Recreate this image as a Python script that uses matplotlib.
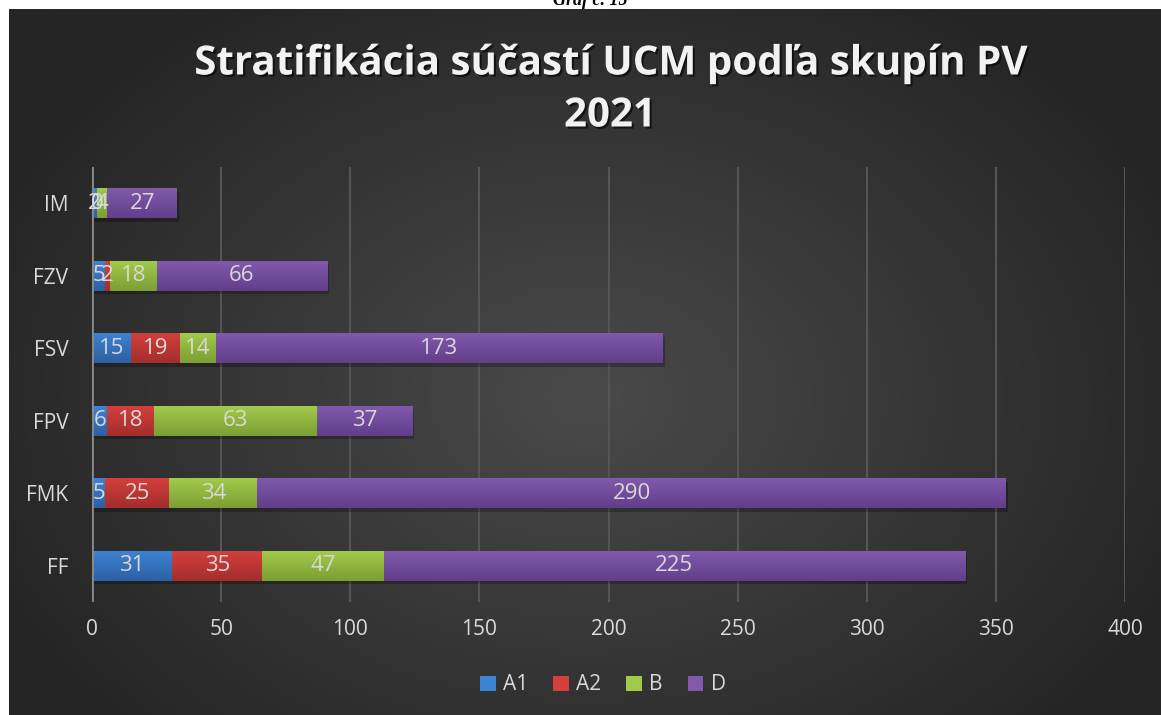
import numpy as np
import matplotlib
matplotlib.use('Agg')
import matplotlib.pyplot as plt
import matplotlib.patheffects as pe
from matplotlib.colors import to_rgb
from matplotlib.patches import Patch

# data
categories = ['FF', 'FMK', 'FPV', 'FSV', 'FZV', 'IM']
series_names = ['A1', 'A2', 'B', 'D']
a1 = [31, 5, 6, 15, 5, 2]
a2 = [35, 25, 18, 19, 2, 0]
b = [47, 34, 63, 14, 18, 4]
d = [225, 290, 37, 173, 66, 27]
x_ticks = [0, 50, 100, 150, 200, 250, 300, 350, 400]

title_lines = ['Stratifikácia súčastí UCM podľa skupín PV', '2021']
caption = 'Graf č. 15'

# (top, bottom) gradient colours per series
colors = {
    'A1': ('#3d83d3', '#2d60a3'),
    'A2': ('#d33f3c', '#a32e2d'),
    'B': ('#a2ca4a', '#7c9e34'),
    'D': ('#8159ad', '#623e8a'),
}
TXT = '#d9d9d9'
FONT = 'Open Sans'

W, H = 1161, 715
fig = plt.figure(figsize=(W / 100, H / 100), dpi=100)
fig.patch.set_facecolor('white')

# dark radial background panel
bg = fig.add_axes([9 / W, 0, 1 - 9 / W, 1 - 9 / H])
bg.set_axis_off()
yy, xx = np.mgrid[0:1:300j, 0:1:500j]
r = np.sqrt(((xx - 0.5) / 0.75) ** 2 + ((yy - 0.55) / 0.9) ** 2)
r = np.clip(r / 0.75, 0, 1)
c_in, c_out = 0x4a / 255, 0x25 / 255
img = c_in + (c_out - c_in) * r
bg.imshow(np.dstack([img, img, img]), extent=(0, 1, 0, 1), aspect='auto', origin='upper')
bg.set_xlim(0, 1)
bg.set_ylim(0, 1)

# caption cut off at the top (as in the source page)
fig.text(590 / W, 1 - 5 / H, caption, ha='center', va='baseline', fontsize=13,
         family='Liberation Serif', fontweight='bold', fontstyle='italic', color='black')

ax = fig.add_axes([92 / W, 113 / H, 1033 / W, 435 / H])
ax.set_facecolor('none')

y = np.arange(len(categories))
bar_h = 0.41
left = np.zeros(len(categories))
series = [a1, a2, b, d]
for name, vals in zip(series_names, series):
    vals = np.array(vals, dtype=float)
    top_c, bot_c = colors[name]
    bars = ax.barh(y, vals, left=left, height=bar_h, color=top_c, zorder=3,
                   path_effects=[pe.withSimplePatchShadow(offset=(1.5, -2.5), alpha=0.25, shadow_rgbFace='black')])
    grad = np.linspace(0, 1, 64)[:, None, None]
    cols = np.array(to_rgb(top_c))[None, None, :] * (1 - grad) + np.array(to_rgb(bot_c))[None, None, :] * grad
    for rect, v in zip(bars, vals):
        x0, y0 = rect.get_x(), rect.get_y()
        if v > 0:
            ax.imshow(cols, extent=(x0, x0 + v, y0, y0 + bar_h), aspect='auto',
                      origin='upper', zorder=4, interpolation='bilinear')
        ax.text(x0 + v / 2, y0 + bar_h / 2, f'{int(v)}', ha='center', va='center',
                color=TXT, fontsize=16, family=FONT, zorder=6)
    left += vals

ax.set_xlim(0, 400)
ax.set_ylim(-0.5, len(categories) - 0.5)
ax.set_xticks(x_ticks)
ax.set_yticks(y)
ax.set_yticklabels(categories)
ax.grid(axis='x', color='#555555', linewidth=1.5, zorder=0)
ax.axvline(0, color='#8a8a8a', linewidth=2, zorder=5)
for s in ax.spines.values():
    s.set_visible(False)
ax.tick_params(length=0, colors=TXT, labelsize=15)
for lbl in ax.get_xticklabels() + ax.get_yticklabels():
    lbl.set_family(FONT)
ax.tick_params(axis='x', pad=12)
ax.tick_params(axis='y', pad=17)

# title, two lines
shadow = [pe.withSimplePatchShadow(offset=(1.5, -1.5), alpha=0.6, shadow_rgbFace='black')]
for line, yc in zip(title_lines, [64, 116]):
    fig.text(610 / W, 1 - yc / H, line, ha='center', va='center',
             fontsize=29, family=FONT, fontweight='bold', color='#f2f2f2',
             path_effects=shadow)

handles = [Patch(facecolor=colors[n][0], label=n) for n in series_names]
leg = fig.legend(handles=handles, loc='center', bbox_to_anchor=(603 / W, 1 - 685 / H), ncol=4,
                 frameon=False, prop={'family': FONT, 'size': 15}, handlelength=0.75,
                 handleheight=0.75, handletextpad=0.35, columnspacing=1.2)
for t in leg.get_texts():
    t.set_color(TXT)

fig.savefig('out.png', dpi=100)
